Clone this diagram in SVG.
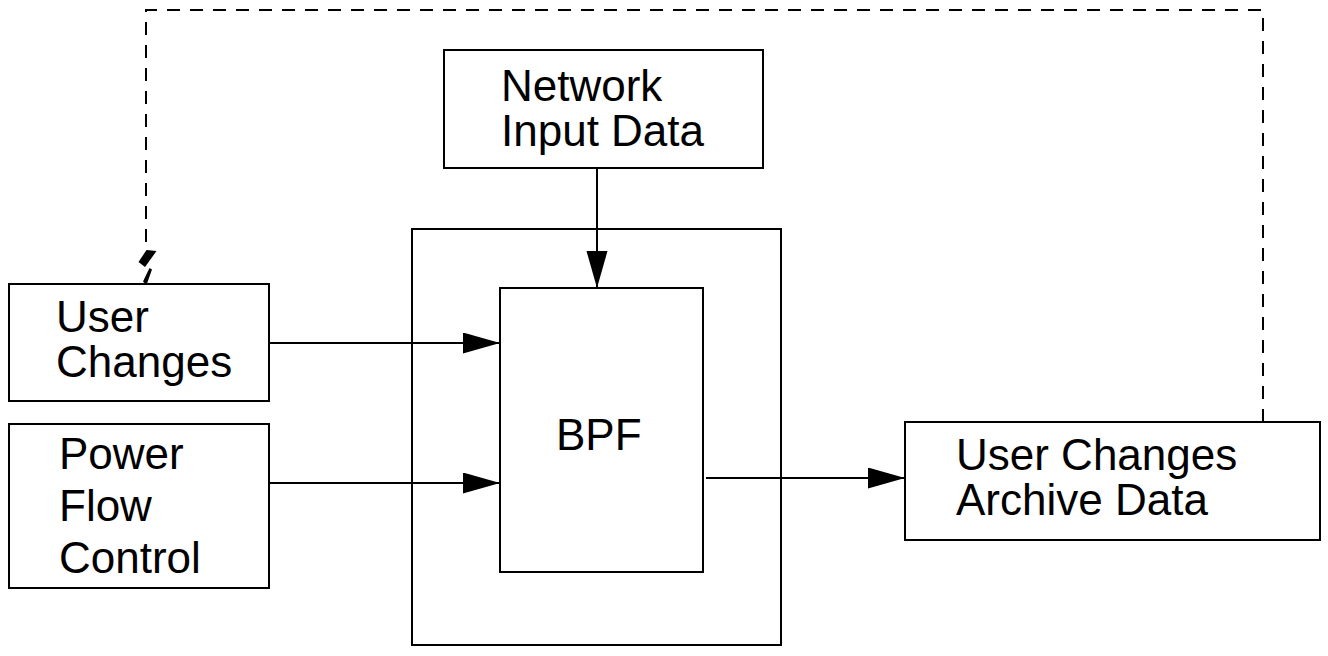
<svg xmlns="http://www.w3.org/2000/svg" width="1328" height="656" viewBox="0 0 1328 656">
<defs>
<style>
.box{fill:#fff;stroke:#000;stroke-width:2}
.lbl{font-family:"Liberation Sans",Arial,sans-serif;font-size:44px;fill:#000}
.ln{fill:none;stroke:#000;stroke-width:2}
.dash{fill:none;stroke:#000;stroke-width:2;stroke-dasharray:13 10}
</style>
<marker id="ah" markerUnits="userSpaceOnUse" markerWidth="38" markerHeight="22" refX="37" refY="10.5" orient="auto" viewBox="0 0 38 22">
<path d="M0,0 L37,10.5 L0,21 z" fill="#000"/>
</marker>
</defs>
<rect width="1328" height="656" fill="#fff"/>
<g id="outer"><rect class="box" x="412" y="229" width="369" height="416"/></g>
<g id="network"><rect class="box" x="444" y="50" width="319" height="118"/>
<text class="lbl" x="501" y="101">Network</text><text class="lbl" x="501" y="146">Input Data</text></g>
<g id="bpf"><rect class="box" x="500" y="288" width="203" height="284"/>
<text class="lbl" x="556" y="450">BPF</text></g>
<g id="userchanges"><rect class="box" x="9" y="284" width="260" height="117"/>
<text class="lbl" x="56" y="332">User</text><text class="lbl" x="56" y="377">Changes</text></g>
<g id="powerflow"><rect class="box" x="9" y="424" width="260" height="164"/>
<text class="lbl" x="59" y="469">Power</text><text class="lbl" x="59" y="521">Flow</text><text class="lbl" x="59" y="573">Control</text></g>
<g id="archive"><rect class="box" x="905" y="422" width="415" height="118"/>
<text class="lbl" x="956" y="470">User Changes</text><text class="lbl" x="956" y="515">Archive Data</text></g>
<g id="connectors">
<line class="ln" x1="597" y1="168" x2="597" y2="288" marker-end="url(#ah)"/>
<line class="ln" x1="269" y1="343" x2="500" y2="343" marker-end="url(#ah)"/>
<line class="ln" x1="269" y1="483" x2="500" y2="483" marker-end="url(#ah)"/>
<line class="ln" x1="706" y1="478" x2="905" y2="478" marker-end="url(#ah)"/>
<path class="dash" d="M1263,422 V10 H146 V248"/>
<polygon points="146.5,250 156.5,251 145,267 138.5,262" fill="#000"/>
<polygon points="149.5,268 152,269.5 146.5,285 143,281.5" fill="#000"/>
</g>
</svg>
